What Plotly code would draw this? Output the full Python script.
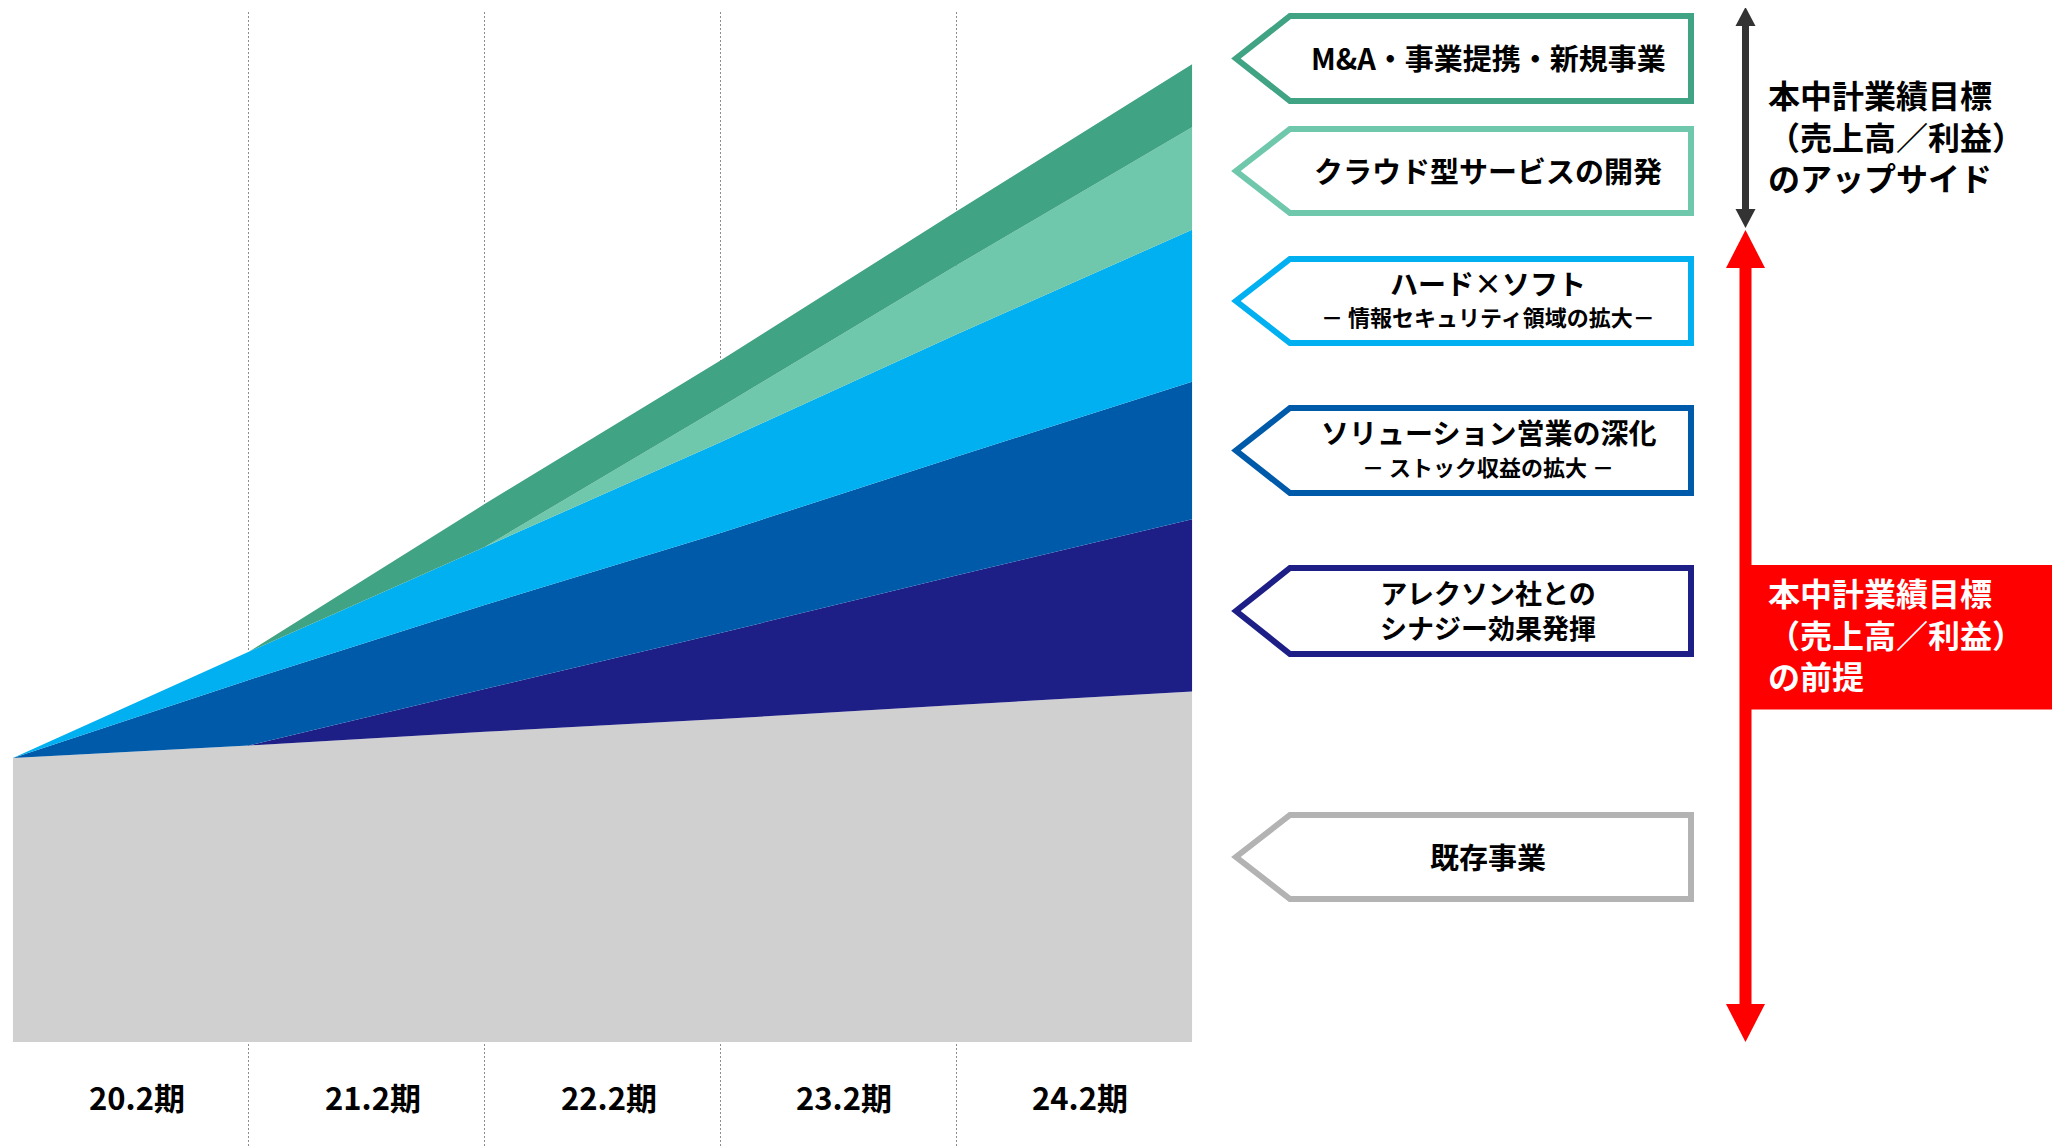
import plotly.graph_objects as go

# ---------------- data ----------------
periods = ["20.2期", "21.2期", "22.2期", "23.2期", "24.2期"]
x_points = [0, 1, 2, 3, 4, 5]  # period boundaries

existing = [100.0, 104.4, 109.2, 113.7, 118.7, 123.4]      # 既存事業
alexon = [0.0, 0.0, 15.1, 30.3, 45.6, 60.7]                # アレクソン社とのシナジー
solution = [0.0, 23.1, 29.6, 35.2, 41.8, 48.4]             # ソリューション営業の深化
hardsoft = [0.0, 9.9, 20.4, 32.0, 43.0, 53.5]              # ハード×ソフト
cloud = [0.0, 0.0, 0.0, 12.3, 24.3, 36.1]                  # クラウド型サービス
mna = [0.0, 0.0, 15.1, 16.5, 19.0, 22.2]                   # M&A・事業提携・新規事業

series = [existing, alexon, solution, hardsoft, cloud, mna]
series_names = ["既存事業", "アレクソン社とのシナジー効果発揮", "ソリューション営業の深化",
                "ハード×ソフト", "クラウド型サービスの開発", "M&A・事業提携・新規事業"]
fill_colors = ["#D0D0D0", "#1E1E87", "#005AAA", "#00B0F0", "#6FC7AC", "#40A383"]

box_lines = [
    ["M&A・事業提携・新規事業"],
    ["クラウド型サービスの開発"],
    ["ハード×ソフト", "－ 情報セキュリティ領域の拡大－"],
    ["ソリューション営業の深化", "－ ストック収益の拡大 －"],
    ["アレクソン社との", "シナジー効果発揮"],
    ["既存事業"],
]
box_colors = ["#40A383", "#6FC7AC", "#00B0F0", "#005AAA", "#1E1E87", "#B3B3B3"]

upside_text = ["本中計業績目標", "（売上高／利益）", "のアップサイド"]
premise_text = ["本中計業績目標", "（売上高／利益）", "の前提"]

# ---------------- layout helpers ----------------
OFF = 8                      # default page body margin
FW, FH = 2060 - OFF, 1146 - OFF
ML, MR, MT, MB = 12 - OFF, 867, 12 - OFF, 0
PW, PH = FW - ML - MR, FH - MT - MB


def px(x):  # page pixel x -> paper
    return (x - OFF - ML) / PW


def py(y):  # page pixel y -> paper
    return (FH - MB - (y - OFF)) / PH


FONT = "Noto Sans CJK JP, Noto Sans, sans-serif"

fig = go.Figure()
for vals, name, col in zip(series, series_names, fill_colors):
    fig.add_trace(go.Scatter(
        x=x_points, y=vals, name=name, stackgroup="one", mode="none",
        fillcolor=col, line=dict(width=0), hoverinfo="skip",
    ))

shapes = []
annotations = []

# category labels
for i, p in enumerate(periods):
    annotations.append(dict(
        x=i + 0.5, xref="x", y=py(1096), yref="paper", text=f"<b>{p}</b>",
        showarrow=False, xanchor="center", yanchor="middle", xshift=6,
        font=dict(family=FONT, size=31, color="#000000"),
    ))

# pentagon boxes
box_tb = [(13, 104), (126, 216), (256, 346), (405, 496), (565, 657), (812, 902)]
sw = 6
for (t, b), col, lines in zip(box_tb, box_colors, box_lines):
    mid = (t + b) / 2
    pts = [(1691, t + sw / 2), (1290, t + sw / 2), (1236, mid), (1290, b - sw / 2), (1691, b - sw / 2)]
    path = "M " + " L ".join(f"{px(a):.5f},{py(c):.5f}" for a, c in pts) + " Z"
    shapes.append(dict(type="path", xref="paper", yref="paper", path=path,
                       line=dict(color=col, width=sw), fillcolor="rgba(0,0,0,0)"))
    if len(lines) == 1:
        annotations.append(dict(
            x=px(1488), y=py(mid - 1), xref="paper", yref="paper", text=f"<b>{lines[0]}</b>",
            showarrow=False, xanchor="center", yanchor="middle",
            font=dict(family=FONT, size=29, color="#000000")))
    elif lines[1].startswith("－"):
        annotations.append(dict(
            x=px(1488), y=py(mid - 18), xref="paper", yref="paper",
            text=f"<b>{lines[0]}</b>", showarrow=False, xanchor="center", yanchor="middle",
            font=dict(family=FONT, size=28, color="#000000")))
        annotations.append(dict(
            x=px(1488), y=py(mid + 15.5), xref="paper", yref="paper",
            text=f"<b>{lines[1]}</b>", showarrow=False, xanchor="center", yanchor="middle",
            font=dict(family=FONT, size=22, color="#000000")))
    else:
        annotations.append(dict(
            x=px(1488), y=py(mid - 1), xref="paper", yref="paper",
            text="<br>".join(f"<b>{ln}</b>" for ln in lines), showarrow=False,
            xanchor="center", yanchor="middle", align="center",
            font=dict(family=FONT, size=27, color="#000000")))

# black double arrow
AX = 1745.5
shapes.append(dict(type="line", xref="paper", yref="paper", x0=px(AX), x1=px(AX),
                   y0=py(24), y1=py(212), line=dict(color="#333333", width=7)))
for tip, base in [(7, 26), (228, 209)]:
    path = f"M {px(AX):.5f},{py(tip):.5f} L {px(AX - 10):.5f},{py(base):.5f} L {px(AX + 10):.5f},{py(base):.5f} Z"
    shapes.append(dict(type="path", xref="paper", yref="paper", path=path,
                       line=dict(width=0), fillcolor="#333333"))

# red box
shapes.append(dict(type="rect", xref="paper", yref="paper", x0=px(1740), x1=px(2070),
                   y0=py(709.5), y1=py(565), line=dict(width=0), fillcolor="#FF0000"))
# red double arrow
shapes.append(dict(type="line", xref="paper", yref="paper", x0=px(AX), x1=px(AX),
                   y0=py(265), y1=py(1006), line=dict(color="#FF0000", width=12)))
for tip, base in [(230, 268), (1042, 1004)]:
    path = f"M {px(AX):.5f},{py(tip):.5f} L {px(AX - 19.5):.5f},{py(base):.5f} L {px(AX + 19.5):.5f},{py(base):.5f} Z"
    shapes.append(dict(type="path", xref="paper", yref="paper", path=path,
                       line=dict(width=0), fillcolor="#FF0000"))

# right-side texts
for txt, yc, col in [(upside_text, 135, "#000000"), (premise_text, 633, "#FFFFFF")]:
    annotations.append(dict(
        x=px(1766), y=py(yc), xref="paper", yref="paper",
        text="<br>".join(f"<b>{ln}</b>" for ln in txt),
        showarrow=False, xanchor="left", yanchor="middle", align="left",
        font=dict(family=FONT, size=32, color=col)))

VPP = 2.84  # pixels per value unit
fig.update_layout(
    width=FW, height=FH,
    margin=dict(l=ML, r=MR, t=MT, b=MB, pad=0),
    paper_bgcolor="#FFFFFF", plot_bgcolor="#FFFFFF",
    showlegend=False,
    xaxis=dict(range=[-0.004, 5.004], tickvals=x_points, showticklabels=False, ticks="",
               showgrid=True, gridcolor="#8C8C8C", gridwidth=1, griddash="2px,2px",
               zeroline=False, showline=False, fixedrange=True),
    yaxis=dict(range=[-(1146 - 1042) / VPP, (1042 - 12) / VPP], visible=False,
               showgrid=False, zeroline=False, fixedrange=True),
    shapes=shapes, annotations=annotations,
    font=dict(family=FONT),
)

fig.write_html("out.html")
